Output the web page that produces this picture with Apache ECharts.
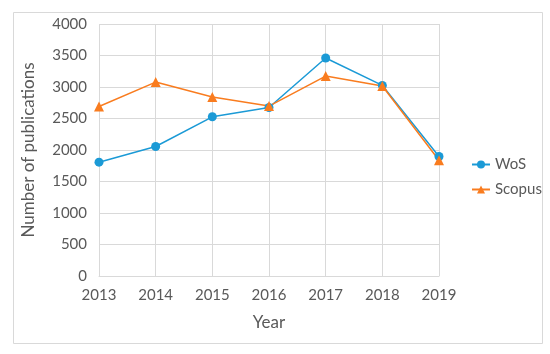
<!DOCTYPE html>
<html>
<head>
<meta charset="utf-8">
<script src="https://cdn.jsdelivr.net/npm/echarts@6/dist/echarts.min.js"></script>
<style>html,body{margin:0;padding:0;background:#fff;}#c{width:550px;height:354px;}</style>
</head>
<body>
<div id="c"></div>
<script>
var years = ['2013','2014','2015','2016','2017','2018','2019'];
var wos = [1807, 2056, 2527, 2675, 3460, 3025, 1897];
var scopus = [2691, 3078, 2840, 2697, 3173, 3015, 1838];
var yTicks = [0, 500, 1000, 1500, 2000, 2500, 3000, 3500, 4000];

var chart = echarts.init(document.getElementById('c'), null, {renderer: 'canvas'});
var font = 'Lato, "Open Sans", sans-serif';
chart.setOption({
  animation: false,
  backgroundColor: '#ffffff',
  graphic: [{
    type: 'rect', left: 11, top: 10, silent: true,
    shape: {width: 529, height: 331},
    style: {fill: 'none', stroke: '#d9d9d9', lineWidth: 1}
  }],
  grid: {left: 99, right: 111, top: 24, bottom: 78},
  legend: {
    orient: 'vertical', left: 466, top: 152, itemGap: 10,
    itemWidth: 18, itemHeight: 10,
    textStyle: {color: '#595959', fontSize: 15, fontFamily: font},
    data: ['WoS', 'Scopus']
  },
  xAxis: {
    type: 'category', data: years, boundaryGap: false,
    name: 'Year', nameLocation: 'middle', nameGap: 38,
    nameTextStyle: {color: '#595959', fontSize: 17, fontFamily: font},
    axisLine: {lineStyle: {color: '#d9d9d9'}},
    axisTick: {show: false},
    axisLabel: {color: '#595959', fontSize: 15, fontFamily: font, margin: 12},
    splitLine: {show: true, lineStyle: {color: '#d9d9d9'}}
  },
  yAxis: {
    type: 'value', min: yTicks[0], max: yTicks[yTicks.length - 1], interval: 500,
    name: 'Number of publications', nameLocation: 'middle', nameGap: 62,
    nameTextStyle: {color: '#595959', fontSize: 17, fontFamily: font},
    axisLine: {show: false}, axisTick: {show: false},
    axisLabel: {color: '#595959', fontSize: 15, fontFamily: font, margin: 12,
      formatter: function (v) { return String(v); }},
    splitLine: {lineStyle: {color: '#d9d9d9'}}
  },
  series: [{
    name: 'WoS', type: 'line', data: wos,
    symbol: 'circle', symbolSize: 9,
    itemStyle: {color: '#1b9ad6'}, lineStyle: {color: '#1b9ad6', width: 1.5}
  }, {
    name: 'Scopus', type: 'line', data: scopus,
    symbol: 'triangle', symbolSize: 10,
    itemStyle: {color: '#f97c1f'}, lineStyle: {color: '#f97c1f', width: 1.5}
  }]
});
</script>
</body>
</html>
